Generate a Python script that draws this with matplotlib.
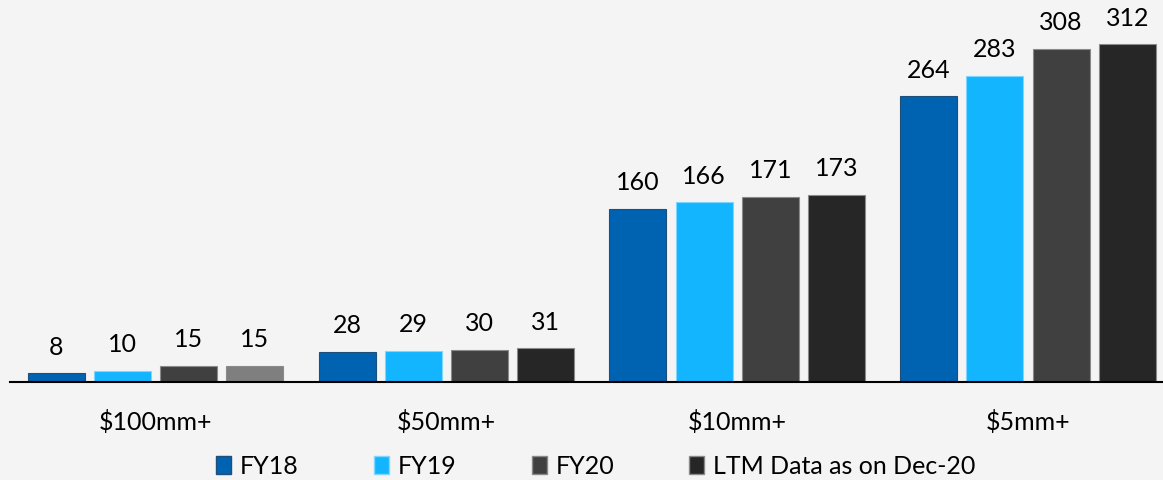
import numpy as np
import matplotlib.pyplot as plt
from matplotlib.patches import Patch

categories = ['$100mm+', '$50mm+', '$10mm+', '$5mm+']
series = ['FY18', 'FY19', 'FY20', 'LTM Data as on Dec-20']
fy18 = [8, 28, 160, 264]
fy19 = [10, 29, 166, 283]
fy20 = [15, 30, 171, 308]
ltm = [15, 31, 173, 312]

colors = ['#0063b1', '#13b5ff', '#404040', '#262626']
edges = ['#1f4e79', '#7fd6ff', '#8a8a8a', '#8a8a8a']

plt.rcParams['font.family'] = ['Lato', 'DejaVu Sans']

fig = plt.figure(figsize=(11.63, 4.8), dpi=100, facecolor='#f4f4f4')
ax = fig.add_axes([10 / 1163, 98 / 480, 1 - 10 / 1163, 382 / 480])
ax.set_facecolor('#f4f4f4')

x = np.arange(len(categories))
pitch = 0.2275
width = 0.196
data = [fy18, fy19, fy20, ltm]
for i, vals in enumerate(data):
    pos = x + (i - 1.5) * pitch
    cols = [colors[i]] * len(vals)
    if i == 3:
        cols[0] = '#7f7f7f'  # first LTM bar is lighter in the original
    bars = ax.bar(pos, vals, width, color=cols, edgecolor=edges[i], linewidth=0.8)
    for b, v in zip(bars, vals):
        ax.annotate(str(v), (b.get_x() + b.get_width() / 2, v),
                    xytext=(0, 13.5), textcoords='offset points',
                    ha='center', va='baseline', fontsize=18, color='black')

ax.set_xlim(-0.5, 3.464)
ax.set_ylim(0, 353)
for s in ['top', 'right', 'left']:
    ax.spines[s].set_visible(False)
ax.spines['bottom'].set_linewidth(1.5)
ax.set_yticks([])
ax.set_xticks(x)
ax.set_xticklabels(categories, fontsize=18)
ax.tick_params(axis='x', length=0, pad=20)

handles = [Patch(facecolor=c, edgecolor=e) for c, e in zip(colors, edges)]
fig.legend(handles, series, loc='center', bbox_to_anchor=(596 / 1163, 1 - 466 / 480),
           ncol=4, frameon=False, fontsize=18, handlelength=0.6, handleheight=0.75,
           handletextpad=0.36, columnspacing=3.0, borderpad=0)

fig.savefig('out.png', dpi=100, facecolor=fig.get_facecolor())
